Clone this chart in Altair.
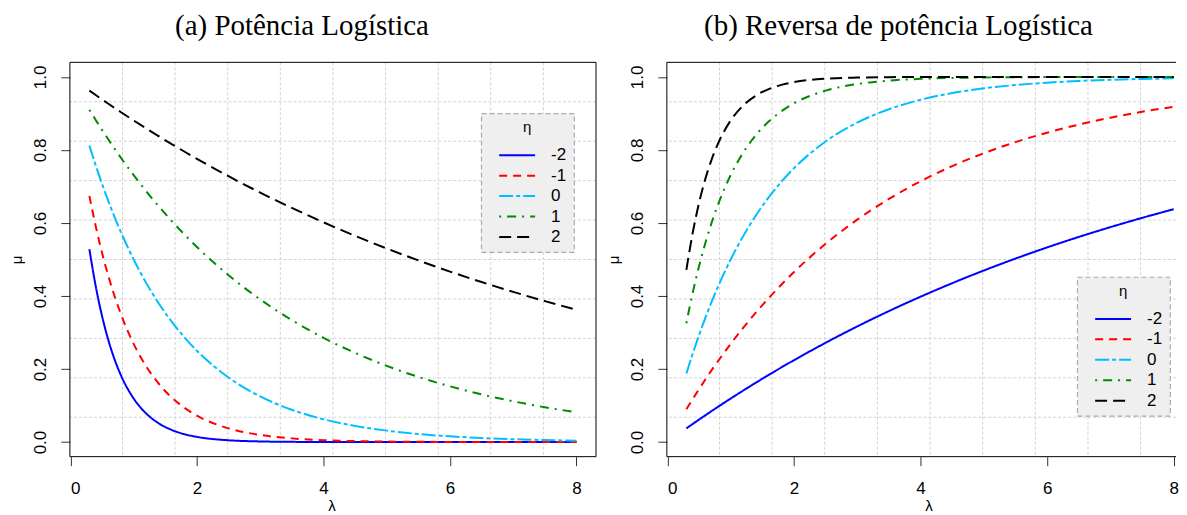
import altair as alt
import pandas as pd

# ---------------- data ----------------
lam = [0.3, 0.4, 0.5, 0.6, 0.7, 0.8, 1.0, 1.2, 1.4, 1.6, 1.8, 2.0,
       2.5, 3.0, 3.5, 4.0, 4.5, 5.0, 5.5, 6.0, 6.5, 7.0, 7.5, 8.0]
eta_levels = ["-2", "-1", "0", "1", "2"]

# (a) Potência Logística
a_m2 = [0.5283, 0.4271, 0.3453, 0.2791, 0.2256, 0.1824, 0.1192, 0.0779, 0.0509, 0.0333, 0.0217, 0.0142,
        0.0049, 0.0017, 0.0006, 0.0002, 0.00007, 0.00002, 0.00001, 0.0, 0.0, 0.0, 0.0, 0.0]
a_m1 = [0.6744, 0.5914, 0.5186, 0.4548, 0.3988, 0.3497, 0.2689, 0.2068, 0.1590, 0.1223, 0.0941, 0.0723,
        0.0375, 0.0195, 0.0101, 0.0052, 0.0027, 0.0014, 0.0007, 0.0004, 0.0002, 0.0001, 0.00005, 0.00003]
a_0 = [0.8123, 0.7579, 0.7071, 0.6598, 0.6156, 0.5743, 0.5000, 0.4353, 0.3789, 0.3299, 0.2872, 0.2500,
       0.1768, 0.1250, 0.0884, 0.0625, 0.0442, 0.0313, 0.0221, 0.0156, 0.0110, 0.0078, 0.0055, 0.0039]
a_p1 = [0.9103, 0.8822, 0.8550, 0.8287, 0.8031, 0.7783, 0.7311, 0.6867, 0.6450, 0.6058, 0.5690, 0.5344,
        0.4570, 0.3907, 0.3341, 0.2856, 0.2442, 0.2088, 0.1785, 0.1527, 0.1305, 0.1116, 0.0954, 0.0816]
a_p2 = [0.9626, 0.9505, 0.9385, 0.9267, 0.9150, 0.9034, 0.8808, 0.8587, 0.8372, 0.8162, 0.7958, 0.7758,
        0.7281, 0.6833, 0.6413, 0.6019, 0.5649, 0.5301, 0.4975, 0.4669, 0.4382, 0.4113, 0.3860, 0.3622]

# (b) Reversa de potência Logística
b_m2 = [0.0374, 0.0495, 0.0615, 0.0733, 0.0850, 0.0966, 0.1192, 0.1413, 0.1628, 0.1838, 0.2043, 0.2242,
        0.2719, 0.3167, 0.3587, 0.3981, 0.4351, 0.4699, 0.5025, 0.5331, 0.5618, 0.5887, 0.6140, 0.6378]
b_m1 = [0.0897, 0.1178, 0.1450, 0.1713, 0.1969, 0.2217, 0.2689, 0.3133, 0.3550, 0.3942, 0.4310, 0.4656,
        0.5430, 0.6093, 0.6659, 0.7144, 0.7558, 0.7912, 0.8215, 0.8473, 0.8695, 0.8884, 0.9046, 0.9184]
b_0 = [0.1878, 0.2421, 0.2929, 0.3402, 0.3844, 0.4257, 0.5000, 0.5647, 0.6211, 0.6701, 0.7128, 0.7500,
       0.8232, 0.8750, 0.9116, 0.9375, 0.9558, 0.9688, 0.9779, 0.9844, 0.9890, 0.9922, 0.9945, 0.9961]
b_p1 = [0.3256, 0.4086, 0.4814, 0.5452, 0.6012, 0.6503, 0.7311, 0.7932, 0.8410, 0.8777, 0.9059, 0.9277,
        0.9625, 0.9805, 0.9899, 0.9948, 0.9973, 0.9986, 0.9993, 0.9996, 0.9998, 0.9999, 0.99995, 0.99997]
b_p2 = [0.4717, 0.5729, 0.6547, 0.7209, 0.7744, 0.8176, 0.8808, 0.9221, 0.9491, 0.9667, 0.9783, 0.9858,
        0.9951, 0.9983, 0.9994, 0.9998, 0.99993, 0.99998, 1.0, 1.0, 1.0, 1.0, 1.0, 1.0]

x_ticks = [0, 2, 4, 6, 8]
y_ticks = [0.0, 0.2, 0.4, 0.6, 0.8, 1.0]
grid_x = [0.8236, 1.6552, 2.4868, 3.3184, 4.15, 4.9816, 5.8132, 6.6448, 7.4764]
grid_y = [0.068, 0.176, 0.284, 0.392, 0.5, 0.608, 0.716, 0.824, 0.932]

# ---------------- styles ----------------
colors = ["#0000FF", "#FF0000", "#00BFFF", "#008B00", "#000000"]
dashes = [[1, 0], [8, 6], [14, 3, 4, 3], [2, 6, 9, 6], [12, 6]]
widths = [2, 2, 4, 2.5, 2.5]
SANS = "Liberation Sans"
SERIF = "Liberation Serif"
H = 395


def long_df(series):
    rows = []
    for eta, vals in zip(eta_levels, series):
        for l, m in zip(lam, vals):
            rows.append({"lam": l, "mu": m, "eta": eta})
    return pd.DataFrame(rows)


def panel(series, title, W, xmax, legx, legy, title_dx, right_frame):
    xs = alt.Scale(domain=[-0.008, xmax], nice=False, zero=False)
    ys = alt.Scale(domain=[-0.04, 1.04], nice=False, zero=False)
    xaxis = alt.Axis(
        values=x_ticks, format="d", grid=False, domain=False,
        tickSize=9, tickColor="#333333", tickWidth=1,
        labelFont=SANS, labelFontSize=17, labelColor="#000000", labelPadding=15,
        title="λ", titleFont=SANS, titleFontSize=15, titleFontWeight="normal",
        titleColor="#000000", titlePadding=2, titleX=262)
    yaxis = alt.Axis(
        values=y_ticks, format=".1f", grid=False, domain=False,
        tickSize=9, tickColor="#333333", tickWidth=1,
        labelFont=SANS, labelFontSize=17, labelColor="#000000",
        labelAngle=270, labelAlign="center", labelBaseline="alphabetic", labelPadding=15,
        minExtent=36, maxExtent=36,
        title="μ", titleFont=SANS, titleFontSize=15, titleFontWeight="normal",
        titleColor="#000000", titlePadding=9)

    gv = alt.Chart(pd.DataFrame({"g": grid_x})).mark_rule(
        color="#d3d3d3", strokeDash=[3, 2], strokeWidth=1
    ).encode(x=alt.X("g:Q", scale=xs, axis=xaxis, title="λ"))
    gh = alt.Chart(pd.DataFrame({"g": grid_y})).mark_rule(
        color="#d3d3d3", strokeDash=[3, 2], strokeWidth=1
    ).encode(y=alt.Y("g:Q", scale=ys, axis=yaxis, title="μ"))

    lines = alt.Chart(long_df(series)).mark_line(interpolate="monotone").encode(
        x=alt.X("lam:Q", scale=xs, axis=xaxis, title="λ"),
        y=alt.Y("mu:Q", scale=ys, axis=yaxis, title="μ"),
        color=alt.Color("eta:O", scale=alt.Scale(domain=eta_levels, range=colors),
                        legend=alt.Legend(title="η", orient="none", legendX=legx, legendY=legy,
                                          labelExpr="datum.label + '\u00a0'")),
        strokeDash=alt.StrokeDash("eta:O", scale=alt.Scale(domain=eta_levels, range=dashes)),
        strokeWidth=alt.StrokeWidth("eta:O", scale=alt.Scale(domain=eta_levels, range=widths)),
    )

    one = pd.DataFrame({"k": [0]})
    frame = [
        alt.Chart(one).mark_rule(color="black", strokeWidth=1).encode(
            x=alt.value(0), x2=alt.value(W), y=alt.value(0)),
        alt.Chart(one).mark_rule(color="black", strokeWidth=1).encode(
            x=alt.value(0), x2=alt.value(W), y=alt.value(H)),
        alt.Chart(one).mark_rule(color="black", strokeWidth=1).encode(
            x=alt.value(0), y=alt.value(0), y2=alt.value(H)),
    ]
    if right_frame:
        frame.append(alt.Chart(one).mark_rule(color="black", strokeWidth=1).encode(
            x=alt.value(W), y=alt.value(0), y2=alt.value(H)))

    return alt.layer(gv, gh, lines, *frame).properties(
        width=W, height=H,
        title=alt.TitleParams(text=title, font=SERIF, fontSize=29, fontWeight="normal",
                              color="black", anchor="middle", offset=21, dx=title_dx),
    )


pa = panel([a_m2, a_m1, a_0, a_p1, a_p2], "(a) Potência Logística",
           527, 8.308, 412, 51, -31, True)
pb = panel([b_m2, b_m1, b_0, b_p1, b_p2], "(b) Reversa de potência Logística",
           510, 8.036, 411, 215, -23, False)

chart = alt.hconcat(pa, pb, spacing=10).resolve_scale(
    color="independent", strokeDash="independent", strokeWidth="independent",
    x="independent", y="independent"
).resolve_legend(
    color="independent", strokeDash="independent", strokeWidth="independent"
).properties(
    padding={"left": 2, "top": 3, "right": 0, "bottom": 0}
).configure_view(stroke=None).configure_legend(
    fillColor="#efefef", strokeColor="#aaaaaa", strokeDash=[5, 3], strokeWidth=1.2,
    padding=7, cornerRadius=0,
    labelFont=SANS, labelFontSize=17, labelColor="#000000", labelOffset=24,
    titleFont=SANS, titleFontSize=15, titleFontWeight="normal", titleColor="#000000",
    titleAnchor="middle", titlePadding=10,
    symbolType="M-2,0H2", symbolSize=324, symbolOffset=19, rowPadding=2.5,
)

chart.save("out.html", embed_options={"renderer": "svg", "actions": False})
